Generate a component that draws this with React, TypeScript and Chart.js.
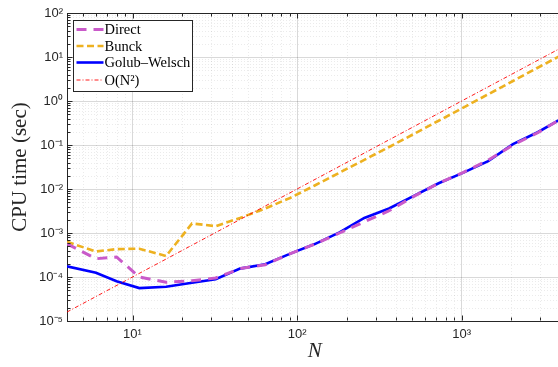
import React, { useEffect, useRef } from "react";
import { Chart, registerables } from "chart.js";
Chart.register(...registerables);

// ---- data ----
const sizes = [4, 6, 8, 11, 16, 23, 32, 45, 64, 91, 128, 181, 256, 362, 512, 724, 1024, 1448, 2048, 2896, 4096];
const direct = [5.7e-4, 2.6e-4, 2.85e-4, 1.0e-4, 7.6e-5, 8.2e-5, 9.5e-5, 1.55e-4, 1.9e-4, 3.4e-4, 5.6e-4, 1.0e-3, 1.8e-3, 3.2e-3, 6.8e-3, 1.35e-2, 2.4e-2, 4.5e-2, 0.1, 0.19, 0.41];
const bunck = [6.3e-4, 3.8e-4, 4.3e-4, 4.4e-4, 3.0e-4, 1.65e-3, 1.43e-3, 2.2e-3, 3.6e-3, 6.3e-3, 1.2e-2, 2.35e-2, 4.6e-2, 9.0e-2, 0.178, 0.356, 0.71, 1.42, 2.85, 5.7, 11.4];
const golubWelsch = [1.75e-4, 1.25e-4, 8.0e-5, 5.6e-5, 6.0e-5, 7.4e-5, 8.9e-5, 1.55e-4, 1.95e-4, 3.4e-4, 5.6e-4, 1.03e-3, 2.2e-3, 3.6e-3, 7.0e-3, 1.35e-2, 2.35e-2, 4.3e-2, 0.105, 0.195, 0.41];
const orderSizes = [4, 4096];
const orderRef = [1.6e-5, 16.8];

const seriesLabels = ["Direct", "Bunck", "Golub–Welsch", "O(N²)"];
const xTickValues = [10, 100, 1000];
const xTickLabels = ["10¹", "10²", "10³"];
const yTickValues = [1e-5, 1e-4, 1e-3, 1e-2, 1e-1, 1, 10, 100];
const yTickLabels = ["10⁻⁵", "10⁻⁴", "10⁻³", "10⁻²", "10⁻¹", "10⁰", "10¹", "10²"];

const AXIS = "#262626";
const SANS = "'Liberation Sans', Arial, sans-serif";
const SERIF = "'Liberation Serif', 'Times New Roman', serif";

const isPow10 = (v: number) => {
  const l = Math.log10(v);
  return Math.abs(l - Math.round(l)) < 1e-9;
};
const isStdTick = (v: number) => {
  const e = Math.floor(Math.log10(v) + 1e-9);
  const m = v / Math.pow(10, e);
  return Math.abs(m - Math.round(m)) < 1e-6;
};
const labelFor = (v: number, vals: number[], labels: string[]) => {
  const i = vals.findIndex((x) => Math.abs(Math.log10(x) - Math.log10(v)) < 1e-9);
  return i >= 0 ? labels[i] : "";
};

const framePlugin = {
  id: "frame",
  beforeDatasetsDraw(chart: any) {
    const { ctx, chartArea: a, scales } = chart;
    ctx.save();
    ctx.strokeStyle = "rgba(0,0,0,0.08)";
    ctx.lineWidth = 1;
    ctx.setLineDash([1, 2]);
    ctx.beginPath();
    for (const t of scales.x.ticks) {
      if (isPow10(t.value)) continue;
      const px = Math.round(scales.x.getPixelForValue(t.value)) + 0.5;
      if (px <= a.left + 1 || px >= a.right) continue;
      ctx.moveTo(px, a.top);
      ctx.lineTo(px, a.bottom);
    }
    for (const t of scales.y.ticks) {
      if (isPow10(t.value)) continue;
      const py = Math.round(scales.y.getPixelForValue(t.value)) + 0.5;
      ctx.moveTo(a.left, py);
      ctx.lineTo(a.right, py);
    }
    ctx.stroke();
    ctx.restore();
  },
  afterDatasetsDraw(chart: any) {
    const { ctx, chartArea: a, scales } = chart;
    ctx.save();
    ctx.strokeStyle = AXIS;
    ctx.lineWidth = 1;
    ctx.beginPath();
    const top = Math.round(a.top) + 0.5;
    const bottom = Math.round(a.bottom) - 0.5;
    const left = Math.round(a.left) + 0.5;
    ctx.moveTo(a.left, top);
    ctx.lineTo(a.right, top);
    for (const t of scales.x.ticks) {
      const px = Math.round(scales.x.getPixelForValue(t.value)) + 0.5;
      if (px < a.left || px > a.right) continue;
      const L = isPow10(t.value) ? 5 : 3;
      ctx.moveTo(px, bottom);
      ctx.lineTo(px, bottom - L);
      ctx.moveTo(px, top);
      ctx.lineTo(px, top + L);
    }
    for (const t of scales.y.ticks) {
      const py = Math.round(scales.y.getPixelForValue(t.value)) + 0.5;
      const L = isPow10(t.value) ? 5 : 3;
      ctx.moveTo(left, py);
      ctx.lineTo(left + L, py);
    }
    ctx.stroke();
    ctx.restore();
  },
  afterDraw(chart: any) {
    const { ctx, chartArea: a } = chart;
    const x0 = Math.round(a.left) + 6.5;
    const y0 = Math.round(a.top) + 7.5;
    const w = 119;
    const h = 71;
    ctx.save();
    ctx.fillStyle = "#ffffff";
    ctx.fillRect(x0, y0, w, h);
    ctx.strokeStyle = AXIS;
    ctx.lineWidth = 1;
    ctx.setLineDash([]);
    ctx.strokeRect(x0, y0, w, h);
    const dsets = chart.data.datasets;
    const rowY = [9, 25.5, 42, 59.5];
    dsets.forEach((ds: any, i: number) => {
      const y = y0 + rowY[i];
      ctx.save();
      ctx.strokeStyle = ds.borderColor;
      ctx.lineWidth = ds.borderWidth;
      ctx.setLineDash(ds.borderDash || []);
      ctx.beginPath();
      ctx.moveTo(x0 + 3, y);
      ctx.lineTo(x0 + 30, y);
      ctx.stroke();
      ctx.restore();
      ctx.fillStyle = "#000";
      ctx.font = `14.5px ${SERIF}`;
      ctx.textBaseline = "middle";
      ctx.textAlign = "left";
      ctx.fillText(ds.label, x0 + 31, y + 1);
    });
    ctx.restore();
  },
};

const toPoints = (xs: number[], ys: number[]) => xs.map((x, i) => ({ x, y: ys[i] }));

export default function App() {
  const ref = useRef<HTMLCanvasElement>(null);
  useEffect(() => {
    const chart = new Chart(ref.current as HTMLCanvasElement, {
      type: "line",
      data: {
        datasets: [
          {
            label: seriesLabels[0],
            data: toPoints(sizes, direct),
            borderColor: "#c95ac9",
            borderWidth: 3,
            borderDash: [10, 7],
            pointRadius: 0,
            tension: 0,
            order: 1,
          },
          {
            label: seriesLabels[1],
            data: toPoints(sizes, bunck),
            borderColor: "#edb120",
            borderWidth: 2.6,
            borderDash: [7, 3.5],
            pointRadius: 0,
            tension: 0,
            order: 3,
          },
          {
            label: seriesLabels[2],
            data: toPoints(sizes, golubWelsch),
            borderColor: "#0000ff",
            borderWidth: 2.6,
            pointRadius: 0,
            tension: 0,
            order: 2,
          },
          {
            label: seriesLabels[3],
            data: toPoints(orderSizes, orderRef),
            borderColor: "#ff0000",
            borderWidth: 0.9,
            borderDash: [4, 2, 1, 2],
            pointRadius: 0,
            tension: 0,
            order: 0,
          },
        ],
      },
      options: {
        animation: false,
        responsive: false,
        parsing: false as any,
        layout: { padding: { left: 0, right: 7.5, top: 13, bottom: 0 } },
        plugins: { legend: { display: false }, tooltip: { enabled: false } },
        scales: {
          x: {
            type: "logarithmic",
            min: 4,
            max: 4096,
            afterBuildTicks: (s: any) => {
              s.ticks = s.ticks.filter((t: any) => isStdTick(t.value));
            },
            afterFit: (s: any) => {
              s.height = 46;
            },
            grid: {
              drawTicks: false,
              color: (c: any) => (c.tick && isPow10(c.tick.value) ? "rgba(0,0,0,0.15)" : "rgba(0,0,0,0)"),
            },
            border: { display: true, color: AXIS, width: 1 },
            ticks: {
              autoSkip: false,
              maxRotation: 0,
              padding: 6,
              color: AXIS,
              font: { family: SANS, size: 13 },
              callback: (v: any) => labelFor(Number(v), xTickValues, xTickLabels),
            },
            title: {
              display: true,
              text: "N",
              color: AXIS,
              font: { family: SERIF, size: 21, style: "italic" },
              padding: { top: 0, bottom: 3 },
            },
          },
          y: {
            type: "logarithmic",
            min: 1e-5,
            max: 100,
            afterBuildTicks: (s: any) => {
              s.ticks = s.ticks.filter((t: any) => isStdTick(t.value));
            },
            afterFit: (s: any) => {
              s.width = 67;
            },
            grid: {
              drawTicks: false,
              color: (c: any) => (c.tick && isPow10(c.tick.value) ? "rgba(0,0,0,0.15)" : "rgba(0,0,0,0)"),
            },
            border: { display: true, color: AXIS, width: 1 },
            ticks: {
              autoSkip: false,
              padding: 4,
              color: AXIS,
              font: { family: SANS, size: 13 },
              callback: (v: any) => labelFor(Number(v), yTickValues, yTickLabels),
            },
            title: {
              display: true,
              text: "CPU time (sec)",
              color: AXIS,
              font: { family: SERIF, size: 21 },
              padding: { top: 8, bottom: 0 },
            },
          },
        },
      },
      plugins: [framePlugin],
    });
    return () => chart.destroy();
  }, []);
  return (
    <div
      style={{
        position: "fixed",
        left: 0,
        top: 0,
        width: 558,
        height: 367,
        overflow: "hidden",
        background: "#ffffff",
      }}
    >
      <canvas ref={ref} width={570} height={367} style={{ display: "block", width: 570, height: 367 }} />
    </div>
  );
}
